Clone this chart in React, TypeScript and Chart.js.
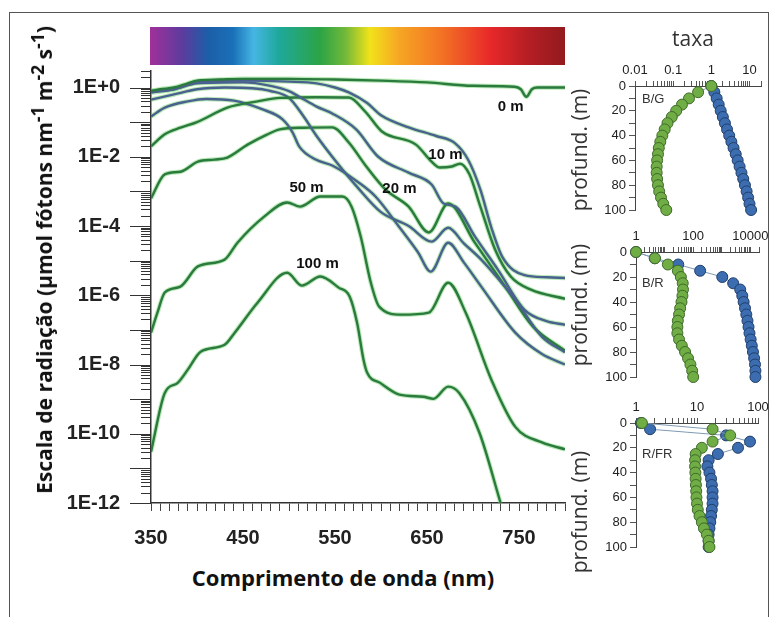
import React, { useEffect, useRef } from 'react';
import { Chart, registerables } from 'chart.js';
Chart.register(...registerables);

type Pt = [number, number];

// ---------- Main chart data: [wavelength (nm), irradiance (µmol fótons nm-1 m-2 s-1)] ----------
const spec0m: Pt[] = [[350,0.79],[360,0.89],[375,1.0],[390,1.32],[400,1.58],[425,1.7],[450,1.78],[500,1.78],[550,1.7],[600,1.58],[650,1.41],[700,1.12],[745,1.05],[752,0.89],[758,0.54],[764,0.89],[770,1.0],[800,1.0]];
const specBlueA: Pt[] = [[350,0.71],[375,0.89],[400,1.41],[450,1.58],[500,1.48],[530,1.32],[550,1.0],[565,0.72],[585,0.355],[600,0.158],[630,0.0708],[660,0.0398],[680,0.0251],[695,0.00794],[708,1.12e-3],[720,8.9e-5],[732,1.26e-5],[756,3.8e-6],[780,3.3e-6],[800,3.16e-6]];
const specBlueB: Pt[] = [[350,0.79],[375,0.89],[400,1.32],[450,1.41],[480,1.12],[500,0.79],[512,0.525],[530,0.282],[547,0.178],[573,0.0617],[597,0.01],[630,3.47e-3],[655,1.58e-3],[668,4.47e-4],[681,3.63e-4],[702,5.0e-5],[727,5.5e-6],[756,3.8e-7],[780,1.78e-7],[800,1.41e-7]];
const spec10m: Pt[] = [[350,0.02],[365,0.0447],[382,0.0692],[400,0.1],[433,0.263],[466,0.398],[490,0.501],[530,0.525],[565,0.513],[583,0.2],[601,0.0537],[638,0.0224],[655,7.24e-3],[664,4.9e-3],[677,5.25e-3],[686,6.3e-3],[696,3.16e-3],[708,3.63e-4],[724,2.09e-5],[741,3.47e-6],[763,1.45e-6],[800,7.9e-7]];
const specBlueC: Pt[] = [[350,0.447],[375,0.631],[400,0.891],[430,1.0],[460,0.955],[480,0.794],[500,0.501],[515,0.158],[530,0.0398],[550,7.94e-3],[575,1.26e-3],[600,2.51e-4],[630,1.0e-4],[655,3.55e-5],[673,8.9e-5],[690,3.16e-5],[709,1.07e-5],[746,7.4e-7],[775,6.3e-8],[800,2.24e-8]];
const specBlueD: Pt[] = [[350,0.145],[365,0.263],[390,0.398],[410,0.468],[440,0.417],[470,0.24],[493,0.12],[504,0.0501],[511,0.02],[529,8.3e-3],[547,5.6e-3],[576,1.78e-3],[594,7.1e-4],[619,1.0e-4],[640,1.78e-5],[654,4.8e-6],[673,3.3e-5],[690,8.9e-6],[709,1.78e-6],[746,8.3e-8],[775,2.0e-8],[800,1.0e-8]];
const spec20m: Pt[] = [[350,6.3e-4],[365,3.1e-3],[382,3.7e-3],[401,7.24e-3],[419,8.3e-3],[433,9.5e-3],[455,0.0224],[476,0.0437],[490,0.0617],[516,0.0692],[547,0.0708],[565,0.0257],[584,5.25e-3],[605,1.12e-3],[630,3.63e-4],[652,6.5e-5],[673,4.47e-4],[702,3.3e-5],[735,1.78e-6],[765,1.26e-7],[800,2.5e-8]];
const spec50m: Pt[] = [[350,8.3e-8],[357,3.16e-7],[365,1.2e-6],[382,1.78e-6],[401,6.8e-6],[430,1.07e-5],[444,3.3e-5],[473,1.86e-4],[498,4.8e-4],[512,3.63e-4],[534,7.1e-4],[558,7.1e-4],[568,3.63e-4],[578,4.9e-5],[589,2.29e-6],[598,4.7e-7],[622,2.75e-7],[652,3.16e-7],[673,2.29e-6],[692,3.16e-7],[720,3.63e-9],[746,1.58e-10],[775,5.6e-11],[800,3.55e-11]];
const spec100m: Pt[] = [[350,3.0e-11],[365,1.51e-9],[379,2.95e-9],[390,7.1e-9],[404,2.34e-8],[430,3.7e-8],[441,8.3e-8],[466,6.2e-7],[498,4.47e-6],[514,1.9e-6],[534,3.47e-6],[554,1.66e-6],[566,9.1e-7],[574,1.6e-7],[581,1.38e-8],[585,5.75e-9],[599,2.95e-9],[620,1.35e-9],[646,1.17e-9],[657,1.02e-9],[673,2.29e-9],[685,1.51e-9],[707,1.07e-10],[730,1.0e-12]];

const xTickLabels = [350, 450, 550, 650, 750];
const yLabelDecades = [0, -2, -4, -6, -8, -10, -12];

const curveLabelText = ['0 m', '10 m', '20 m', '50 m', '100 m'];
const curveLabelNm = [741, 670, 620, 519, 531];
const curveLabelVal = [0.28, 0.0115, 1.2e-3, 1.29e-3, 8.1e-6];

// ---------- Side panels: depth (m) and ratios ----------
const depthsM = [0,5,10,15,20,25,30,35,40,45,50,55,60,65,70,75,80,85,90,95,100];
const bgGreen = [1.0,0.45,0.26,0.17,0.12,0.092,0.071,0.06,0.052,0.046,0.042,0.04,0.038,0.037,0.037,0.038,0.04,0.043,0.048,0.055,0.066];
const bgBlue = [1.0,1.2,1.38,1.56,1.76,2.0,2.27,2.58,2.94,3.35,3.82,4.35,4.9,5.5,6.15,6.85,7.6,8.4,9.2,10.0,11.0];
const brGreen = [1,4.6,13,29,37,43,44,42,39,35,32,29,28,28,32,40,52,66,80,92,100];
const brBlue = [1,4.5,30,175,1040,2500,4400,5200,5800,6500,7200,7900,8600,9300,10200,11200,12300,13500,14500,15000,15000];
const rfrGreen = [1.25,18,35,18,12,9.5,9.3,9.3,9.4,9.5,9.6,9.7,9.8,10,10.3,11,12,13,14.5,15.5,16];
const rfrBlue = [1.2,1.7,30,74,47,22,15.5,14.8,16,17,17.5,18,18,18,17.5,17,16.5,16,15.5,15.5,15.5];

const bgTickVals = [0.01, 0.1, 1, 10];
const bgTickText = ['0.01', '0.1', '1', '10'];
const brTickVals = [1, 100, 10000];
const brTickText = ['1', '100', '10000'];
const rfrTickVals = [1, 10, 100];
const rfrTickText = ['1', '10', '100'];

const GREEN = '#2b7a3e';
const BLUE = '#4a6190';
const HALO = 'rgba(115,212,110,0.5)';
const ARIAL = '"Liberation Sans", Arial, sans-serif';
const OPEN = '"Open Sans", "Liberation Sans", sans-serif';

const curves = [
  { data: spec0m, color: GREEN },
  { data: specBlueA, color: BLUE },
  { data: specBlueB, color: BLUE },
  { data: spec10m, color: GREEN },
  { data: specBlueC, color: BLUE },
  { data: specBlueD, color: BLUE },
  { data: spec20m, color: GREEN },
  { data: spec50m, color: GREEN },
  { data: spec100m, color: GREEN },
];

function logTicks(min: number, max: number): number[] {
  const out: number[] = [];
  const e0 = Math.floor(Math.log10(min));
  const e1 = Math.ceil(Math.log10(max));
  for (let e = e0; e <= e1; e++) {
    for (let k = 1; k <= 9; k++) {
      const v = parseFloat((k * Math.pow(10, e)).toPrecision(10));
      if (v >= min * 0.999999 && v <= max * 1.000001) out.push(v);
    }
  }
  return out;
}

function isDecade(v: number) {
  const e = Math.log10(v);
  return Math.abs(e - Math.round(e)) < 1e-7;
}

function MainChart() {
  const ref = useRef<HTMLCanvasElement>(null);
  useEffect(() => {
    const datasets: any[] = [];
    curves.forEach((c) => {
      const pts = c.data.map(([x, y]) => ({ x, y }));
      datasets.push({ data: pts, borderColor: c.color, borderWidth: 2.4, pointRadius: 0, cubicInterpolationMode: 'monotone', order: 0, fill: false });
      datasets.push({ data: pts, borderColor: HALO, borderWidth: 4.5, pointRadius: 0, cubicInterpolationMode: 'monotone', order: 1, fill: false });
    });
    const yTickMarks = {
      id: 'yTickMarks',
      afterDraw(chart: any) {
        const s = chart.scales.y;
        const ctx = chart.ctx;
        ctx.save();
        ctx.strokeStyle = '#333';
        ctx.lineWidth = 1;
        s.ticks.forEach((t: any) => {
          const y = Math.round(s.getPixelForValue(t.value)) + 0.5;
          const len = isDecade(t.value) ? 21 : 10;
          ctx.beginPath();
          ctx.moveTo(s.right - len, y);
          ctx.lineTo(s.right, y);
          ctx.stroke();
        });
        ctx.restore();
      },
    };
    const curveLabels = {
      id: 'curveLabels',
      afterDatasetsDraw(chart: any) {
        const ctx = chart.ctx;
        const xs = chart.scales.x;
        const ys = chart.scales.y;
        ctx.save();
        ctx.font = 'bold 15px ' + ARIAL;
        ctx.fillStyle = '#111';
        ctx.textAlign = 'center';
        ctx.textBaseline = 'middle';
        curveLabelText.forEach((t, i) => {
          ctx.fillText(t, xs.getPixelForValue(curveLabelNm[i]), ys.getPixelForValue(curveLabelVal[i]));
        });
        ctx.restore();
      },
    };
    const chart = new Chart(ref.current as HTMLCanvasElement, {
      type: 'line',
      data: { datasets },
      options: {
        responsive: false,
        animation: false,
        layout: { padding: { top: 71, right: 15, bottom: 0, left: 0 } },
        plugins: { legend: { display: false }, tooltip: { enabled: false } },
        scales: {
          x: {
            type: 'linear', min: 350, max: 800,
            afterFit: (s: any) => { s.height = 57; },
            ticks: {
              stepSize: 10, autoSkip: false, maxRotation: 0, padding: 15, color: '#222',
              font: { family: ARIAL, size: 20, weight: 'bold' },
              callback: (v: any) => (xTickLabels.includes(Number(v)) ? String(v) : ''),
            },
            grid: { drawOnChartArea: false, drawTicks: true, tickLength: 8, color: '#444' },
            border: { color: '#333', width: 1.5 },
          },
          y: {
            type: 'logarithmic', min: 1e-12, max: 3,
            afterFit: (s: any) => { s.width = 151; },
            afterBuildTicks: (s: any) => { s.ticks = logTicks(1e-12, 3).map((v) => ({ value: v })); },
            ticks: {
              autoSkip: false, padding: 10, color: '#222',
              font: { family: ARIAL, size: 20, weight: 'bold' },
              callback: (v: any) => {
                const n = Number(v);
                if (!isDecade(n)) return '';
                const e = Math.round(Math.log10(n));
                if (!yLabelDecades.includes(e)) return '';
                return '1E' + (e >= 0 ? '+' + e : String(e));
              },
            },
            grid: { drawOnChartArea: false, drawTicks: true, tickLength: 21, color: 'rgba(0,0,0,0)' },
            border: { color: '#333', width: 1.5 },
          },
        },
      } as any,
      plugins: [yTickMarks, curveLabels],
    });
    return () => chart.destroy();
  }, []);
  return <canvas ref={ref} width={580} height={560} style={{ position: 'absolute', left: 0, top: 0 }} />;
}

type PanelProps = {
  top: number; yW: number; xH: number; padR: number; padB: number;
  xMin: number; xMax: number; tickVals: number[]; tickText: string[];
  green: number[]; blue: number[];
};

function Panel(p: PanelProps) {
  const ref = useRef<HTMLCanvasElement>(null);
  useEffect(() => {
    const mk = (vals: number[], fill: string, stroke: string) => ({
      data: depthsM.map((d, i) => ({ x: vals[i], y: d })),
      showLine: true, borderColor: '#7f9ab2', borderWidth: 1,
      pointRadius: 5.5, pointBackgroundColor: fill, pointBorderColor: stroke, pointBorderWidth: 1,
      clip: false,
    });
    const chart = new Chart(ref.current as HTMLCanvasElement, {
      type: 'scatter',
      data: { datasets: [mk(p.green, '#70ad45', '#3f6b2a'), mk(p.blue, '#3c6db0', '#223f6b')] },
      options: {
        responsive: false,
        animation: false,
        layout: { padding: { top: 0, right: p.padR, bottom: p.padB, left: 0 } },
        plugins: { legend: { display: false }, tooltip: { enabled: false } },
        scales: {
          x: {
            type: 'logarithmic', position: 'top', min: p.xMin, max: p.xMax,
            afterFit: (s: any) => { s.height = p.xH; },
            afterBuildTicks: (s: any) => { s.ticks = logTicks(p.xMin, p.xMax).map((v) => ({ value: v })); },
            ticks: {
              autoSkip: false, maxRotation: 0, padding: 3, color: '#222',
              font: { family: ARIAL, size: 13 },
              callback: (v: any) => {
                const n = Number(v);
                const i = p.tickVals.findIndex((t) => Math.abs(t - n) / t < 1e-6);
                return i >= 0 ? p.tickText[i] : '';
              },
            },
            grid: { drawOnChartArea: false, drawTicks: true, tickLength: 5, color: '#555' },
            border: { color: '#444', width: 1 },
          },
          y: {
            type: 'linear', reverse: true, min: 0, max: 100,
            afterFit: (s: any) => { s.width = p.yW; },
            ticks: {
              stepSize: 10, autoSkip: false, padding: 3, color: '#222',
              font: { family: ARIAL, size: 13 },
              callback: (v: any) => (Number(v) % 20 === 0 ? String(v) : ''),
            },
            grid: { drawOnChartArea: false, drawTicks: true, tickLength: 6, color: '#555' },
            border: { color: '#444', width: 1 },
          },
        },
      } as any,
    });
    return () => chart.destroy();
  }, []);
  return <canvas ref={ref} width={215} height={180} style={{ position: 'absolute', left: 560, top: p.top }} />;
}

function Txt(props: { x: number; y: number; rot?: boolean; font: string; color?: string; anchorLeft?: boolean; children: any }) {
  const tr = props.anchorLeft ? 'translate(0,-50%)' : 'translate(-50%,-50%)' + (props.rot ? ' rotate(-90deg)' : '');
  return (
    <div style={{ position: 'absolute', left: props.x, top: props.y, transform: tr, whiteSpace: 'nowrap', font: props.font, color: props.color || '#111', lineHeight: 1 }}>
      {props.children}
    </div>
  );
}

const spectrumGradient = 'linear-gradient(to right, #a0309a 0%, #5b3c9e 8%, #1c5ea8 14%, #1a70b8 20%, #45b6e3 25%, #1ea89c 31%, #2ca445 41%, #70b83a 47%, #f2e21a 53%, #f6a623 60%, #f37424 70%, #e8282a 82%, #b51e24 91%, #921a1e 100%)';

export default function App() {
  return (
    <div style={{ position: 'absolute', left: 0, top: 0, width: 779, height: 617, overflow: 'hidden', background: '#fff' }}>
      <div style={{ position: 'absolute', left: 9, top: 12, width: 760, height: 605, border: '1px solid #555', borderBottom: 'none', boxSizing: 'border-box' }} />
      <div style={{ position: 'absolute', left: 150, top: 27, width: 415, height: 38, background: spectrumGradient }} />
      <MainChart />
      <Panel top={45} yW={75} xH={41} padR={14} padB={15} xMin={0.01} xMax={20} tickVals={bgTickVals} tickText={bgTickText} green={bgGreen} blue={bgBlue} />
      <Panel top={212} yW={76} xH={40} padR={16} padB={15} xMin={1} xMax={20000} tickVals={brTickVals} tickText={brTickText} green={brGreen} blue={brBlue} />
      <Panel top={383} yW={76} xH={40} padR={17} padB={16} xMin={1} xMax={100} tickVals={rfrTickVals} tickText={rfrTickText} green={rfrGreen} blue={rfrBlue} />
      <Txt x={42} y={260} rot font={'bold 21px ' + OPEN}>
        Escala de radiação (µmol fótons nm<sup>-1</sup> m<sup>-2</sup> s<sup>-1</sup>)
      </Txt>
      <Txt x={343} y={577} font={'bold 22px ' + OPEN}>Comprimento de onda (nm)</Txt>
      <Txt x={693} y={38} font={'21px ' + OPEN} color="#333">taxa</Txt>
      <Txt x={579} y={150} rot font={'21px ' + OPEN} color="#333">profund. (m)</Txt>
      <Txt x={579} y={305} rot font={'21px ' + OPEN} color="#333">profund. (m)</Txt>
      <Txt x={579} y={512} rot font={'21px ' + OPEN} color="#333">profund. (m)</Txt>
      <Txt x={642} y={98} anchorLeft font={'13px ' + ARIAL} color="#333">B/G</Txt>
      <Txt x={642} y={282} anchorLeft font={'13px ' + ARIAL} color="#333">B/R</Txt>
      <Txt x={642} y={453} anchorLeft font={'13px ' + ARIAL} color="#333">R/FR</Txt>
    </div>
  );
}
